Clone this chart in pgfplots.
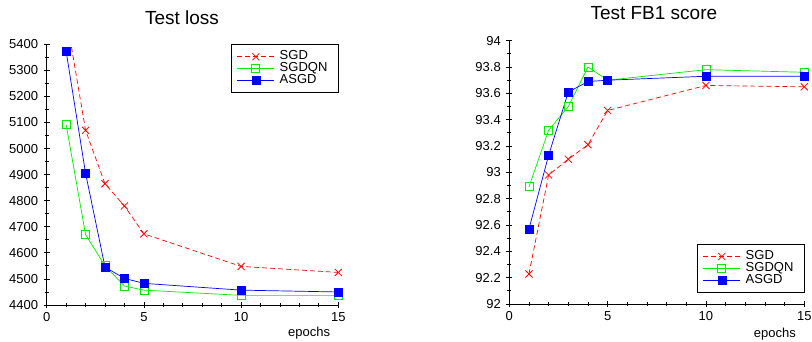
\documentclass[border=0pt]{standalone}
\usepackage{fontspec}
\setmainfont{Liberation Sans}
\usepackage{pgfplots}
\pgfplotsset{compat=1.18}
\definecolor{cred}{RGB}{255,0,0}
\definecolor{cgreen}{RGB}{0,235,0}
\definecolor{cblue}{RGB}{0,0,255}
\pgfplotsset{
  common/.style={
    scale only axis,
    axis x line*=bottom, axis y line*=left,
    axis line style={line width=1pt},
    tick align=center,
    major tick length=6pt, minor tick length=4pt,
    every tick/.style={black, line width=0.8pt},
    xmin=0, xmax=15, xtick={0,5,10,15}, minor x tick num=4,
    minor y tick num=1,
    tick label style={font=\fontsize{13}{15}\selectfont},
    /pgf/number format/assume math mode=true,
    /pgf/number format/set thousands separator={},
    xticklabel style={yshift=-1pt},
    yticklabel style={xshift=-2pt},
    legend cell align=left,
    legend style={font=\fontsize{13}{15}\selectfont, draw=black, line width=0.8pt,
      inner xsep=5.5pt, inner ysep=6pt, row sep=0pt,
      nodes={inner xsep=5pt, inner ysep=0pt, text height=9pt, text depth=3pt}},
    legend image code/.code={\draw[mark repeat=2,mark phase=2] plot coordinates {(0pt,0pt) (18.5pt,0pt) (37pt,0pt)};},
    every axis plot/.append style={line width=0.7pt},
  },
  sgd/.style={color=cred, mark=x, mark size=5pt, dash pattern=on 5pt off 3pt, mark options={solid, line width=0.8pt}},
  sgdqn/.style={color=cgreen, mark=square, mark size=4pt, mark options={solid, fill=white, line width=0.8pt}},
  asgd/.style={color=cblue, mark=square*, mark size=4pt, mark options={solid, fill=cblue}},
}
\begin{document}
\begin{tikzpicture}
\useasboundingbox (0,0) rectangle (812pt,341pt);
\begin{axis}[common,
  at={(46.7pt,36pt)}, anchor=south west,
  width=291.6pt, height=260.7pt,
  ymin=4400, ymax=5400, ytick={4400,4500,...,5400},
  title={Test loss},
  title style={font=\fontsize{19}{22}\selectfont, at={(axis description cs:0.464,1)}, anchor=center, yshift=21pt},
  xlabel={epochs},
  xlabel style={font=\fontsize{13}{15}\selectfont, at={(axis description cs:0.9,0)}, anchor=center, yshift=-28pt},
  legend style={at={(1,1)}, anchor=north east},
  clip=true,
]
\addplot[sgd] coordinates {(1,5510) (2,5070) (3,4865) (4,4780) (5,4673) (10,4548) (15,4525)};
\addlegendentry{SGD}
\addplot[sgdqn] coordinates {(1,5092) (2,4670) (3,4550) (4,4473) (5,4457) (10,4437) (15,4437)};
\addlegendentry{SGDQN}
\addplot[asgd] coordinates {(1,5373) (2,4905) (3,4545) (4,4502) (5,4483) (10,4457) (15,4450)};
\addlegendentry{ASGD}
\end{axis}
\begin{axis}[common,
  at={(509.3pt,37pt)}, anchor=south west,
  width=295pt, height=263.3pt,
  ymin=92, ymax=94, ytick={92,92.2,...,94.01},
  yticklabel style={/pgf/number format/.cd, fixed, precision=1},
  title={Test FB1 score},
  title style={font=\fontsize{19}{22}\selectfont, at={(axis description cs:0.49,1)}, anchor=center, yshift=22pt},
  xlabel={epochs},
  xlabel style={font=\fontsize{13}{15}\selectfont, at={(axis description cs:0.9,0)}, anchor=center, yshift=-30pt},
  legend style={at={(1,0.042)}, anchor=south east},
  clip=false,
]
\addplot[sgd] coordinates {(1,92.228) (2,92.98) (3,93.10) (4,93.21) (5,93.47) (10,93.66) (15,93.65)};
\addlegendentry{SGD}
\addplot[sgdqn] coordinates {(1,92.89) (2,93.32) (3,93.50) (4,93.80) (5,93.70) (10,93.78) (15,93.76)};
\addlegendentry{SGDQN}
\addplot[asgd] coordinates {(1,92.57) (2,93.13) (3,93.61) (4,93.69) (5,93.70) (10,93.73) (15,93.73)};
\addlegendentry{ASGD}
\end{axis}
\end{tikzpicture}
\end{document}
